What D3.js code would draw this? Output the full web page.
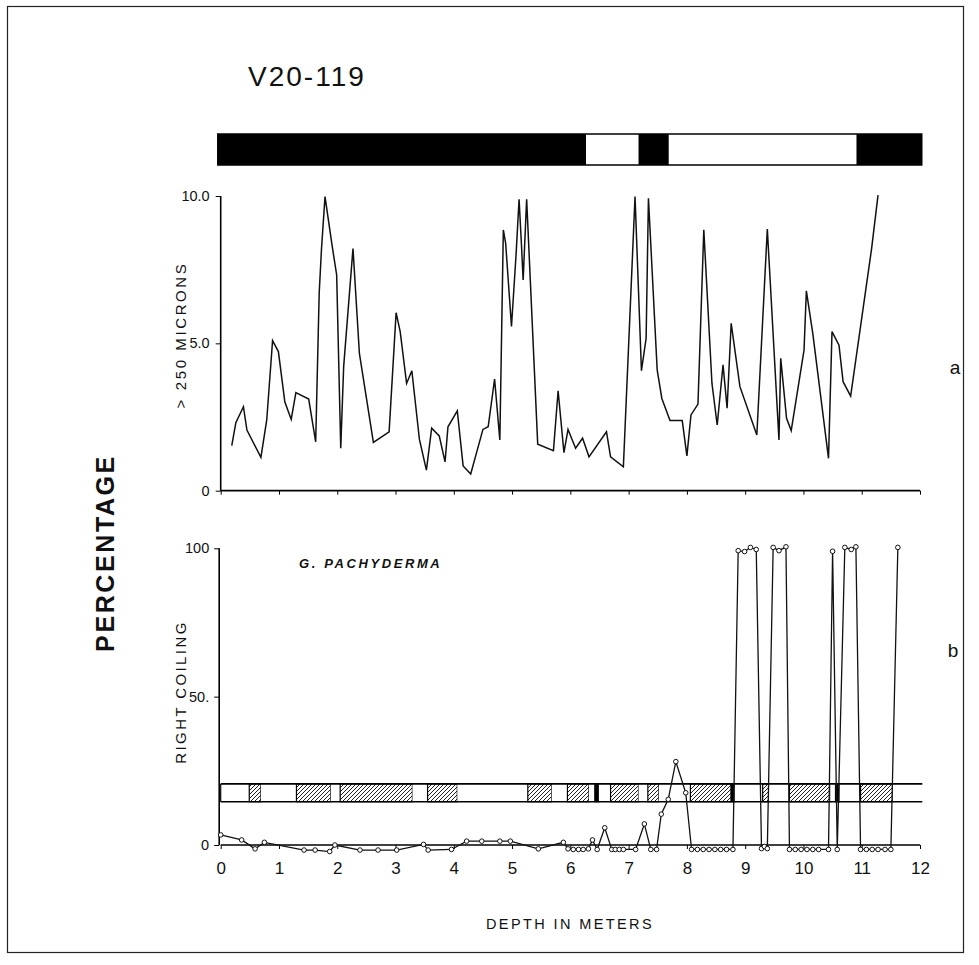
<!DOCTYPE html>
<html><head><meta charset="utf-8">
<script src="https://cdn.jsdelivr.net/npm/d3@7"></script>
<style>body{margin:0;background:#fff}svg{display:block}text{font-family:"Liberation Sans",Arial,sans-serif;fill:#111}</style>
</head><body><svg id="c" width="979" height="965"></svg>
<script>
// ---- data ----
const depthTicks = [0,1,2,3,4,5,6,7,8,9,10,11,12];
const coarseTicks = [0,5,10];
const coarseTickLabels = ["0","5.0","10.0"];
const coilTicks = [0,50,100];
const coilTickLabels = ["0","50.","100"];

const coarseDepth = [0.19,0.26,0.39,0.45,0.69,0.79,0.89,0.99,1.10,1.21,1.29,1.51,1.63,1.69,1.73,1.79,1.91,1.99,2.06,2.11,2.27,2.38,2.62,2.89,3.01,3.08,3.19,3.28,3.41,3.53,3.62,3.75,3.85,3.90,4.06,4.16,4.29,4.50,4.59,4.70,4.79,4.85,4.89,4.99,5.07,5.12,5.16,5.19,5.25,5.44,5.71,5.79,5.89,5.96,6.09,6.21,6.32,6.62,6.69,6.91,7.11,7.22,7.30,7.34,7.49,7.57,7.71,7.92,8.00,8.07,8.19,8.29,8.43,8.52,8.62,8.69,8.76,8.91,9.20,9.38,9.58,9.61,9.71,9.79,10.01,10.05,10.16,10.43,10.49,10.61,10.68,10.81,11.17,11.28];
const coarsePct = [1.53,2.31,2.85,2.06,1.13,2.40,5.09,4.72,3.02,2.42,3.33,3.11,1.66,6.70,8.22,9.98,8.34,7.32,1.44,4.21,8.22,4.66,1.64,2.00,6.04,5.40,3.64,4.07,1.74,0.70,2.12,1.86,0.98,2.17,2.71,0.84,0.57,2.08,2.17,3.79,1.72,8.85,8.39,5.57,8.06,9.89,8.39,7.15,9.89,1.58,1.36,3.39,1.29,2.08,1.44,1.78,1.15,2.00,1.15,0.81,9.98,4.07,5.17,9.92,4.10,3.13,2.38,2.38,1.18,2.57,2.94,8.85,3.64,2.23,4.27,2.80,5.68,3.53,1.89,8.88,1.72,4.49,2.46,2.04,4.77,6.78,5.34,1.10,5.40,4.94,3.70,3.21,8.22,10.03];

const coilDepth = [0.00,0.36,0.59,0.75,1.43,1.62,1.87,1.96,2.39,2.70,3.02,3.48,3.56,3.96,4.22,4.48,4.79,4.97,5.45,5.88,5.96,6.05,6.14,6.22,6.31,6.38,6.46,6.59,6.71,6.77,6.84,6.91,7.12,7.27,7.38,7.48,7.56,7.68,7.81,7.98,8.08,8.18,8.28,8.38,8.48,8.58,8.68,8.79,8.88,8.99,9.09,9.19,9.28,9.33,9.38,9.48,9.58,9.70,9.76,9.86,9.96,10.06,10.16,10.26,10.43,10.50,10.58,10.71,10.82,10.90,10.98,11.08,11.18,11.28,11.40,11.50,11.62];
const coilPct = [3.4,1.7,-1.3,0.9,-1.7,-1.7,-2.2,0.0,-1.7,-1.7,-1.7,0.2,-1.7,-1.5,1.3,1.3,1.3,1.3,-1.3,0.9,-1.3,-1.5,-1.5,-1.5,-1.3,1.7,-1.5,5.8,-1.5,-1.5,-1.5,-1.5,-1.5,7.1,-1.5,-1.5,10.4,15.4,28.1,17.6,-1.5,-1.5,-1.5,-1.5,-1.5,-1.5,-1.5,-1.5,99.2,98.9,100.3,99.6,-1.2,-0.5,-1.2,100.3,99.2,100.5,-1.5,-1.5,-1.5,-1.5,-1.5,-1.5,-1.5,99.0,-1.5,100.3,99.6,100.5,-1.5,-1.5,-1.5,-1.5,-1.5,-1.5,100.3];

// magnetic polarity bar (top)
const polStart = [-0.05,6.27,7.17,7.69,10.91];
const polEnd   = [6.27,7.17,7.69,10.91,12.03];
const polType  = ["black","white","black","white","black"];

// coiling zonation band (w = blank, h = hatched, b = black)
const zoneStart = [0,0.49,0.69,1.30,1.89,2.05,3.29,3.55,4.06,5.27,5.68,5.95,6.32,6.42,6.49,6.69,7.17,7.33,7.52,8.06,8.76,8.82,9.30,9.41,9.76,10.46,10.55,10.62,10.98,11.53];
const zoneEnd   = [0.49,0.69,1.30,1.89,2.05,3.29,3.55,4.06,5.27,5.68,5.95,6.32,6.42,6.49,6.69,7.17,7.33,7.52,8.06,8.76,8.82,9.30,9.41,9.76,10.46,10.55,10.62,10.98,11.53,12.04];
const zoneType  = ["w","h","w","h","w","h","w","h","w","h","w","h","w","b","w","h","w","h","w","h","b","w","h","w","h","w","b","w","h","w"];
const zoneLow = 14.6, zoneHigh = 20.6;

// ---- drawing ----
const svg = d3.select("#c");
const x = d3.scaleLinear().domain([0,12]).range([220.7,920]);
const ya = d3.scaleLinear().domain([0,10]).range([490.7,196]);
const yb = d3.scaleLinear().domain([0,100]).range([845,548.3]);

const defs = svg.append("defs");
const pat = defs.append("pattern").attr("id","hatch").attr("patternUnits","userSpaceOnUse")
  .attr("width",4).attr("height",4);
pat.append("rect").attr("width",4).attr("height",4).attr("fill","#fff");
pat.append("path").attr("d","M-1,1 L1,-1 M0,4 L4,0 M3,5 L5,3").attr("stroke","#222").attr("stroke-width",1);

// frame
svg.append("rect").attr("x",7.5).attr("y",6.5).attr("width",956).attr("height",946)
  .attr("fill","none").attr("stroke","#222").attr("stroke-width",1.2);

// title
svg.append("text").attr("x",248).attr("y",86).attr("font-size",28).attr("letter-spacing",2).text("V20-119");

// polarity bar
svg.append("g").selectAll("rect").data(polStart).join("rect")
  .attr("x",(d)=>x(d)).attr("width",(d,i)=>x(polEnd[i])-x(d))
  .attr("y",134).attr("height",31).attr("fill",(d,i)=>polType[i]);
svg.append("rect").attr("x",x(polStart[0])).attr("width",x(polEnd[polEnd.length-1])-x(polStart[0]))
  .attr("y",134).attr("height",31).attr("fill","none").attr("stroke","#000").attr("stroke-width",1.5);

// ---- panel a ----
const ga = svg.append("g");
ga.append("g").attr("transform",`translate(0,${ya(0)})`)
  .call(d3.axisBottom(x).tickValues(depthTicks).tickSize(4).tickFormat(""))
  .call(g=>g.select(".domain").attr("stroke-width",1.8).attr("d",`M${x(0)},0H${x(12)}`));
ga.append("g").attr("transform",`translate(${x(0)},0)`)
  .call(d3.axisLeft(ya).tickValues(coarseTicks).tickSize(5).tickPadding(6).tickFormat((d,i)=>coarseTickLabels[i]))
  .call(g=>{g.select(".domain").attr("stroke-width",1.6).attr("d",`M0,${ya(0)}V${ya(10)}`);
            g.selectAll("text").attr("font-size",14.5).attr("font-family","Liberation Sans,Arial,sans-serif").attr("fill","#111");});
const lineA = d3.line().x((d,i)=>x(coarseDepth[i])).y((d)=>ya(d));
ga.append("path").datum(coarsePct).attr("d",lineA).attr("fill","none").attr("stroke","#111").attr("stroke-width",1.5).attr("stroke-linejoin","miter");

svg.append("text").attr("transform","translate(186,335) rotate(-90)").attr("text-anchor","middle")
  .attr("font-size",15).attr("letter-spacing",2.6).text("> 250  MICRONS");
svg.append("text").attr("x",955).attr("y",374).attr("text-anchor","middle").attr("font-size",19).text("a");

// ---- panel b ----
const gb = svg.append("g");
gb.append("g").selectAll("rect").data(zoneStart).join("rect")
  .attr("x",(d)=>x(d)).attr("width",(d,i)=>x(zoneEnd[i])-x(d))
  .attr("y",yb(zoneHigh)).attr("height",yb(zoneLow)-yb(zoneHigh))
  .attr("fill",(d,i)=>zoneType[i]==="h"?"url(#hatch)":zoneType[i]==="b"?"#000":"#fff")
  .attr("stroke",(d,i)=>zoneType[i]==="w"?"none":"#000").attr("stroke-width",1.2);
gb.append("g").selectAll("line").data([zoneLow,zoneHigh]).join("line")
  .attr("x1",x(0)).attr("x2",x(12.04)).attr("y1",(d)=>yb(d)).attr("y2",(d)=>yb(d))
  .attr("stroke","#000").attr("stroke-width",1.6);
gb.append("line").attr("x1",x(0)).attr("x2",x(0)).attr("y1",yb(zoneLow)).attr("y2",yb(zoneHigh)).attr("stroke","#000").attr("stroke-width",1.2);

gb.append("g").attr("transform",`translate(0,${yb(0)})`)
  .call(d3.axisBottom(x).tickValues(depthTicks).tickSize(4).tickPadding(13).tickFormat(d3.format("d")))
  .call(g=>{g.select(".domain").attr("stroke-width",1.6).attr("d",`M${x(0)},0H${x(12)}`);
            g.selectAll("text").attr("font-size",17).attr("font-family","Liberation Sans,Arial,sans-serif").attr("fill","#111");});
gb.append("g").attr("transform",`translate(${x(0)-1.5},0)`)
  .call(d3.axisLeft(yb).tickValues(coilTicks).tickSize(5).tickPadding(5).tickFormat((d,i)=>coilTickLabels[i]))
  .call(g=>{g.select(".domain").attr("stroke-width",1.6).attr("d",`M0,${yb(0)}V${yb(100)}`);
            g.selectAll("text").attr("font-size",14.5).attr("font-family","Liberation Sans,Arial,sans-serif").attr("fill","#111");});

const lineB = d3.line().x((d,i)=>x(coilDepth[i])).y((d)=>yb(d));
gb.append("path").datum(coilPct).attr("d",lineB).attr("fill","none").attr("stroke","#111").attr("stroke-width",1.3);
gb.append("g").selectAll("circle").data(coilPct).join("circle")
  .attr("cx",(d,i)=>x(coilDepth[i])).attr("cy",(d)=>yb(d)).attr("r",2.3)
  .attr("fill","#fff").attr("stroke","#111").attr("stroke-width",1);

svg.append("text").attr("x",299).attr("y",568).attr("font-size",13).attr("font-style","italic").attr("font-weight","bold")
  .attr("letter-spacing",2.6).text("G.  PACHYDERMA");
svg.append("text").attr("transform","translate(186,692) rotate(-90)").attr("text-anchor","middle")
  .attr("font-size",15).attr("letter-spacing",2.4).text("RIGHT  COILING");
svg.append("text").attr("x",953).attr("y",657).attr("text-anchor","middle").attr("font-size",19).text("b");

svg.append("text").attr("transform","translate(114,553) rotate(-90)").attr("text-anchor","middle")
  .attr("font-size",25).attr("font-weight","bold").attr("letter-spacing",2.6).text("PERCENTAGE");
svg.append("text").attr("x",570).attr("y",929).attr("text-anchor","middle")
  .attr("font-size",14.5).attr("letter-spacing",2.4).text("DEPTH  IN  METERS");
</script></body></html>
